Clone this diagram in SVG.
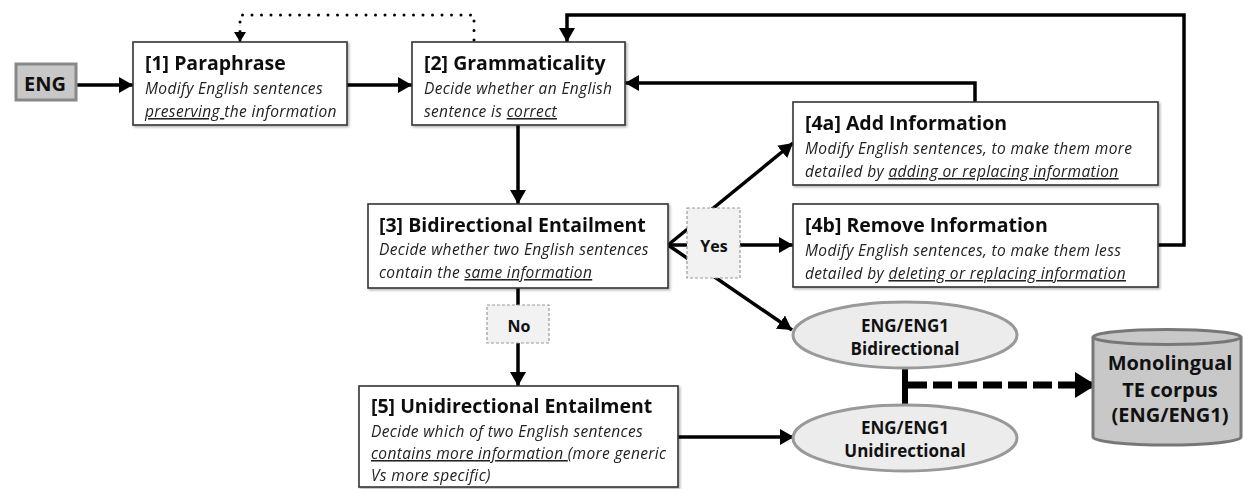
<svg xmlns="http://www.w3.org/2000/svg" width="1243" height="489" viewBox="0 0 1243 489">
<style>
.box{fill:#fff;stroke:#333;stroke-width:1.6}
.t{font-family:"Open Sans",Lato,sans-serif;font-weight:bold;font-size:19.5px;fill:#111}
.d{font-family:"Open Sans",Lato,sans-serif;font-style:italic;font-size:15.5px;letter-spacing:0.35px;fill:#222}
.lbl{font-family:"Open Sans",Lato,sans-serif;font-weight:bold;font-size:16px;fill:#111;text-anchor:middle}
.ell{fill:#ececec;stroke:#999;stroke-width:3}
.et{font-family:"Open Sans",Lato,sans-serif;font-weight:bold;font-size:17px;fill:#111;text-anchor:middle}
.big{font-size:20px}
.ln{fill:none;stroke:#000;stroke-width:3.5}
.tag{fill:#f2f2f2;stroke:#999;stroke-width:1.2;stroke-dasharray:3 2}
</style>
<defs>
<marker id="ah" markerUnits="userSpaceOnUse" markerWidth="15" markerHeight="16" refX="14" refY="8" orient="auto"><path d="M0,0 L14,8 L0,16 z" fill="#000"/></marker>
<marker id="ahs" markerUnits="userSpaceOnUse" markerWidth="12" markerHeight="12" refX="10" refY="6" orient="auto"><path d="M0,0 L10,6 L0,12 z" fill="#000"/></marker>
<marker id="ahb" markerUnits="userSpaceOnUse" markerWidth="22" markerHeight="26" refX="21" refY="13" orient="auto"><path d="M0,0 L21,13 L0,26 z" fill="#000"/></marker>
<filter id="sh" x="-5%" y="-5%" width="110%" height="115%"><feDropShadow dx="1.5" dy="1.5" stdDeviation="1" flood-color="#000" flood-opacity="0.3"/></filter>
</defs>
<g id="connectors">
<path class="ln" d="M77,85 H133" marker-end="url(#ah)"/>
<path class="ln" d="M347,85 H412" marker-end="url(#ah)"/>
<path d="M474,40 V15 H240 V42" fill="none" stroke="#000" stroke-width="3" stroke-linecap="round" stroke-dasharray="0 9.5" marker-end="url(#ahs)"/>
<path class="ln" d="M1158,245 H1184 V15 H567 V42" stroke-width="4" marker-end="url(#ah)"/>
<path class="ln" d="M975,102 V83 H625" marker-end="url(#ah)"/>
<path class="ln" d="M518,125 V204" marker-end="url(#ah)"/>
<path class="ln" d="M668,245 L793,143" marker-end="url(#ah)"/>
<path class="ln" d="M668,245 H793" marker-end="url(#ah)"/>
<path class="ln" d="M668,245 L792,330" marker-end="url(#ah)"/>
<path class="ln" d="M518,287 V386" marker-end="url(#ah)"/>
<path class="ln" d="M678,437 H794" marker-end="url(#ah)"/>
<path d="M905,368 V405" stroke="#000" stroke-width="6"/>
<path d="M908,385 H1096" stroke="#000" stroke-width="7" stroke-dasharray="19 6" fill="none" marker-end="url(#ahb)"/>
</g>
<g id="eng">
<rect x="16" y="64" width="60" height="36" fill="#c8c8c8" stroke="#888" stroke-width="3"/>
<text x="45" y="91" class="lbl big">ENG</text>
</g>
<g id="n1" filter="url(#sh)">
<rect class="box" x="133" y="42" width="214" height="83"/>
<text class="t" x="145" y="70">[1] Paraphrase</text>
<text class="d" x="145" y="94">Modify English sentences</text>
<text class="d" x="145" y="117"><tspan text-decoration="underline">preserving </tspan>the information</text>
</g>
<g id="n2" filter="url(#sh)">
<rect class="box" x="412" y="42" width="213" height="83"/>
<text class="t" x="424" y="70">[2] Grammaticality</text>
<text class="d" x="424" y="94">Decide whether an English</text>
<text class="d" x="424" y="117">sentence is <tspan text-decoration="underline">correct</tspan></text>
</g>
<g id="n4a" filter="url(#sh)">
<rect class="box" x="793" y="102" width="365" height="83"/>
<text class="t" x="805" y="130">[4a] Add Information</text>
<text class="d" x="805" y="154">Modify English sentences, to make them more</text>
<text class="d" x="805" y="177">detailed by <tspan text-decoration="underline">adding or replacing information</tspan></text>
</g>
<g id="n4b" filter="url(#sh)">
<rect class="box" x="793" y="204" width="365" height="83"/>
<text class="t" x="805" y="232">[4b] Remove Information</text>
<text class="d" x="805" y="256">Modify English sentences, to make them less</text>
<text class="d" x="805" y="279">detailed by <tspan text-decoration="underline">deleting or replacing information</tspan></text>
</g>
<g id="n3" filter="url(#sh)">
<rect class="box" x="368" y="204" width="300" height="84"/>
<text class="t" x="379" y="232">[3] Bidirectional Entailment</text>
<text class="d" x="379" y="255">Decide whether two English sentences</text>
<text class="d" x="379" y="278">contain the <tspan text-decoration="underline">same information</tspan></text>
</g>
<g id="n5" filter="url(#sh)">
<rect class="box" x="359" y="386" width="319" height="101"/>
<text class="t" x="371" y="413">[5] Unidirectional Entailment</text>
<text class="d" x="371" y="437">Decide which of two English sentences</text>
<text class="d" x="371" y="459"><tspan text-decoration="underline">contains more information </tspan>(more generic</text>
<text class="d" x="371" y="481">Vs more specific)</text>
</g>
<g id="yes">
<rect class="tag" x="687" y="208" width="53" height="70"/>
<text class="lbl" x="714" y="252">Yes</text>
</g>
<g id="no">
<rect class="tag" x="487" y="305" width="62" height="38"/>
<text class="lbl" x="519" y="332">No</text>
</g>
<g id="bi">
<ellipse class="ell" cx="905" cy="335" rx="112" ry="33"/>
<text class="et" x="905" y="332">ENG/ENG1</text>
<text class="et" x="905" y="355">Bidirectional</text>
</g>
<g id="uni">
<ellipse class="ell" cx="905" cy="438" rx="112" ry="33"/>
<text class="et" x="905" y="434">ENG/ENG1</text>
<text class="et" x="905" y="457">Unidirectional</text>
</g>
<g id="corpus">
<path d="M1093,337 A74,7.5 0 0 1 1241,337 V437 A74,8 0 0 1 1093,437 Z" fill="#c8c8c8" stroke="#777" stroke-width="3"/>
<path d="M1093,337 A74,7.5 0 0 0 1241,337" fill="none" stroke="#777" stroke-width="3"/>
<text class="et big" x="1170" y="370">Monolingual</text>
<text class="et big" x="1170" y="397">TE corpus</text>
<text class="et big" x="1170" y="422">(ENG/ENG1)</text>
</g>
</svg>
